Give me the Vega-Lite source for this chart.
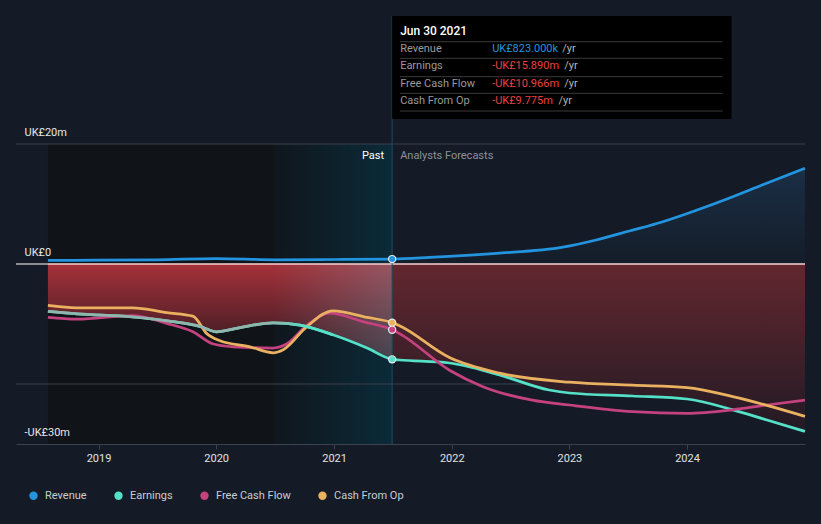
{
  "$schema": "https://vega.github.io/schema/vega-lite/v6.json",
  "width": 789,
  "height": 444,
  "autosize": {"type": "none"},
  "padding": {"left": 16, "top": 0, "right": 16, "bottom": 80},
  "background": "#151b26",
  "config": {
    "view": {"stroke": null},
    "font": "Roboto",
    "axisX": {"grid": false, "domainColor": "#3c4250", "tickColor": "#3c4250", "tickSize": 5, "labelColor": "#e2e2e2", "labelFontSize": 11, "labelPadding": 3, "title": null},
    "axisY": {"grid": false, "domain": false, "ticks": false, "tickSize": 0, "labelAlign": "left", "labelPadding": -8, "labelBaseline": "middle", "labelOffset": -12, "labelColor": "#e6e6e6", "labelFontSize": 11, "title": null},
    "legend": {"padding": 0}
  },
  "datasets": {
    "series": [
      {"date": "2018-07-28", "series": "Revenue", "value": 0.6},
      {"date": "2019-01-01", "series": "Revenue", "value": 0.65},
      {"date": "2019-07-01", "series": "Revenue", "value": 0.7},
      {"date": "2020-01-01", "series": "Revenue", "value": 0.9},
      {"date": "2020-07-01", "series": "Revenue", "value": 0.7},
      {"date": "2021-01-01", "series": "Revenue", "value": 0.75},
      {"date": "2021-06-30", "series": "Revenue", "value": 0.823},
      {"date": "2021-10-25", "series": "Revenue", "value": 1.1},
      {"date": "2022-05-20", "series": "Revenue", "value": 1.78},
      {"date": "2022-12-12", "series": "Revenue", "value": 2.8},
      {"date": "2023-03-25", "series": "Revenue", "value": 4.0},
      {"date": "2023-07-06", "series": "Revenue", "value": 5.5},
      {"date": "2023-10-18", "series": "Revenue", "value": 7.05},
      {"date": "2024-01-30", "series": "Revenue", "value": 8.95},
      {"date": "2024-05-12", "series": "Revenue", "value": 11.0},
      {"date": "2024-08-23", "series": "Revenue", "value": 13.2},
      {"date": "2025-01-01", "series": "Revenue", "value": 15.95},

      {"date": "2018-07-28", "series": "Earnings", "value": -7.9},
      {"date": "2018-10-26", "series": "Earnings", "value": -8.3},
      {"date": "2019-04-16", "series": "Earnings", "value": -8.8},
      {"date": "2019-08-19", "series": "Earnings", "value": -9.6},
      {"date": "2019-11-11", "series": "Earnings", "value": -10.4},
      {"date": "2020-01-02", "series": "Earnings", "value": -11.3},
      {"date": "2020-03-15", "series": "Earnings", "value": -10.6},
      {"date": "2020-06-26", "series": "Earnings", "value": -9.8},
      {"date": "2020-09-17", "series": "Earnings", "value": -10.2},
      {"date": "2020-12-28", "series": "Earnings", "value": -11.8},
      {"date": "2021-04-13", "series": "Earnings", "value": -14.0},
      {"date": "2021-06-30", "series": "Earnings", "value": -15.89},
      {"date": "2021-07-23", "series": "Earnings", "value": -16.0},
      {"date": "2021-12-25", "series": "Earnings", "value": -16.5},
      {"date": "2022-05-29", "series": "Earnings", "value": -18.5},
      {"date": "2022-10-30", "series": "Earnings", "value": -21.0},
      {"date": "2023-01-01", "series": "Earnings", "value": -21.5},
      {"date": "2023-07-16", "series": "Earnings", "value": -22.0},
      {"date": "2024-01-01", "series": "Earnings", "value": -22.5},
      {"date": "2024-05-22", "series": "Earnings", "value": -24.3},
      {"date": "2024-09-05", "series": "Earnings", "value": -26.0},
      {"date": "2025-01-01", "series": "Earnings", "value": -27.9},

      {"date": "2018-07-28", "series": "Free Cash Flow", "value": -8.9},
      {"date": "2018-10-26", "series": "Free Cash Flow", "value": -9.2},
      {"date": "2019-04-16", "series": "Free Cash Flow", "value": -8.6},
      {"date": "2019-08-01", "series": "Free Cash Flow", "value": -9.9},
      {"date": "2019-10-21", "series": "Free Cash Flow", "value": -11.3},
      {"date": "2019-12-21", "series": "Free Cash Flow", "value": -13.3},
      {"date": "2020-02-22", "series": "Free Cash Flow", "value": -13.8},
      {"date": "2020-06-26", "series": "Free Cash Flow", "value": -14.0},
      {"date": "2020-08-08", "series": "Free Cash Flow", "value": -13.3},
      {"date": "2020-10-09", "series": "Free Cash Flow", "value": -10.2},
      {"date": "2020-12-19", "series": "Free Cash Flow", "value": -8.2},
      {"date": "2021-03-31", "series": "Free Cash Flow", "value": -9.6},
      {"date": "2021-06-30", "series": "Free Cash Flow", "value": -10.966},
      {"date": "2021-07-23", "series": "Free Cash Flow", "value": -11.6},
      {"date": "2021-12-25", "series": "Free Cash Flow", "value": -17.7},
      {"date": "2022-04-06", "series": "Free Cash Flow", "value": -20.4},
      {"date": "2022-09-08", "series": "Free Cash Flow", "value": -22.7},
      {"date": "2023-01-01", "series": "Free Cash Flow", "value": -23.5},
      {"date": "2023-07-16", "series": "Free Cash Flow", "value": -24.6},
      {"date": "2024-01-01", "series": "Free Cash Flow", "value": -24.9},
      {"date": "2024-05-22", "series": "Free Cash Flow", "value": -24.3},
      {"date": "2024-09-05", "series": "Free Cash Flow", "value": -23.5},
      {"date": "2025-01-01", "series": "Free Cash Flow", "value": -22.7},

      {"date": "2018-07-28", "series": "Cash From Op", "value": -6.9},
      {"date": "2018-10-26", "series": "Cash From Op", "value": -7.3},
      {"date": "2019-04-16", "series": "Cash From Op", "value": -7.3},
      {"date": "2019-08-01", "series": "Cash From Op", "value": -8.1},
      {"date": "2019-10-21", "series": "Cash From Op", "value": -8.7},
      {"date": "2019-12-03", "series": "Cash From Op", "value": -11.6},
      {"date": "2020-01-13", "series": "Cash From Op", "value": -12.8},
      {"date": "2020-04-15", "series": "Cash From Op", "value": -13.8},
      {"date": "2020-06-26", "series": "Cash From Op", "value": -14.8},
      {"date": "2020-07-27", "series": "Cash From Op", "value": -14.3},
      {"date": "2020-10-09", "series": "Cash From Op", "value": -10.4},
      {"date": "2020-12-28", "series": "Cash From Op", "value": -7.8},
      {"date": "2021-04-13", "series": "Cash From Op", "value": -8.9},
      {"date": "2021-06-30", "series": "Cash From Op", "value": -9.775},
      {"date": "2021-07-23", "series": "Cash From Op", "value": -10.3},
      {"date": "2021-12-25", "series": "Cash From Op", "value": -15.6},
      {"date": "2022-05-29", "series": "Cash From Op", "value": -18.2},
      {"date": "2023-01-01", "series": "Cash From Op", "value": -19.7},
      {"date": "2023-07-16", "series": "Cash From Op", "value": -20.2},
      {"date": "2024-01-01", "series": "Cash From Op", "value": -20.6},
      {"date": "2024-05-22", "series": "Cash From Op", "value": -22.1},
      {"date": "2025-01-01", "series": "Cash From Op", "value": -25.4}
    ],
    "tip": [
      {"label": "Revenue", "amount": "UK£823.000k", "neg": false, "at": 35.78, "unit": "2022-12-10"},
      {"label": "Earnings", "amount": "-UK£15.890m", "neg": true, "at": 33.0, "unit": "2022-12-16"},
      {"label": "Free Cash Flow", "amount": "-UK£10.966m", "neg": true, "at": 30.0, "unit": "2022-12-16"},
      {"label": "Cash From Op", "amount": "-UK£9.775m", "neg": true, "at": 27.22, "unit": "2022-11-28"}
    ]
  },
  "layer": [
    {
      "data": {"values": [{}]},
      "mark": {"type": "rect", "color": "#101419"},
      "encoding": {
        "x": {"datum": {"year": 2018, "month": 7, "date": 28}, "type": "temporal", "title": null},
        "x2": {"datum": {"year": 2020, "month": 6, "date": 30}},
        "y": {"datum": 20, "type": "quantitative", "title": null},
        "y2": {"datum": -30}
      }
    },
    {
      "data": {"values": [{}]},
      "mark": {"type": "rect", "color": {"gradient": "linear", "x1": 0, "y1": 0, "x2": 1, "y2": 0, "stops": [{"offset": 0, "color": "#10161d"}, {"offset": 1, "color": "#0a2b38"}]}},
      "encoding": {
        "x": {"datum": {"year": 2020, "month": 6, "date": 30}, "type": "temporal", "title": null},
        "x2": {"datum": {"year": 2021, "month": 6, "date": 30}},
        "y": {"datum": 20, "type": "quantitative", "title": null},
        "y2": {"datum": -30}
      }
    },
    {
      "data": {"values": [{"g": 20}, {"g": -20}]},
      "mark": {"type": "rule", "color": "#3a404b", "strokeWidth": 1},
      "encoding": {"y": {"field": "g", "type": "quantitative", "title": null}}
    },
    {
      "data": {"name": "series"},
      "transform": [{"filter": "datum.series === 'Revenue' && toDate(datum.date) >= toDate('2021-06-30')"}],
      "mark": {"type": "area", "interpolate": "monotone", "color": {"gradient": "linear", "x1": 0, "y1": 0, "x2": 0, "y2": 1, "stops": [{"offset": 0, "color": "#1a2e45"}, {"offset": 1, "color": "#141d29"}]}},
      "encoding": {
        "x": {"field": "date", "type": "temporal", "title": null},
        "y": {"field": "value", "type": "quantitative", "title": null},
        "y2": {"datum": 0}
      }
    },
    {
      "data": {"name": "series"},
      "transform": [{"filter": "datum.series === 'Earnings' && toDate(datum.date) <= toDate('2021-06-30')"}],
      "mark": {"type": "area", "interpolate": "monotone", "color": {"gradient": "linear", "x1": 0, "y1": 0, "x2": 0, "y2": 1, "stops": [{"offset": 0, "color": "#a53139"}, {"offset": 1, "color": "#2d1820"}]}},
      "encoding": {
        "x": {"field": "date", "type": "temporal", "title": null},
        "y": {"field": "value", "type": "quantitative", "title": null},
        "y2": {"datum": 0}
      }
    },
    {
      "data": {"name": "series"},
      "transform": [{"filter": "datum.series === 'Earnings' && toDate(datum.date) >= toDate('2021-06-30')"}],
      "mark": {"type": "area", "interpolate": "monotone", "color": {"gradient": "linear", "x1": 0, "y1": 0, "x2": 0, "y2": 1, "stops": [{"offset": 0, "color": "#63272f"}, {"offset": 1, "color": "#221a24"}]}},
      "encoding": {
        "x": {"field": "date", "type": "temporal", "title": null},
        "y": {"field": "value", "type": "quantitative", "title": null},
        "y2": {"datum": 0}
      }
    },
    {
      "data": {"name": "series"},
      "transform": [{"filter": "datum.series === 'Earnings' && toDate(datum.date) >= toDate('2020-06-26') && toDate(datum.date) <= toDate('2021-06-30')"}],
      "mark": {"type": "area", "interpolate": "monotone", "color": {"gradient": "linear", "x1": 0, "y1": 0, "x2": 1, "y2": 0, "stops": [{"offset": 0, "color": "rgba(120,165,185,0.0)"}, {"offset": 1, "color": "rgba(120,165,185,0.32)"}]}},
      "encoding": {
        "x": {"field": "date", "type": "temporal", "title": null},
        "y": {"field": "value", "type": "quantitative", "title": null},
        "y2": {"datum": 0}
      }
    },
    {
      "data": {"values": [{}]},
      "mark": {"type": "rule", "color": "#ffffff", "strokeWidth": 1},
      "encoding": {"y": {"datum": 0, "type": "quantitative", "title": null}}
    },
    {
      "data": {"values": [{}]},
      "mark": {"type": "rule", "color": "#f3bcbc", "strokeWidth": 1},
      "encoding": {
        "x": {"datum": {"year": 2018, "month": 7, "date": 28}, "type": "temporal", "title": null},
        "x2": {"datum": {"year": 2025, "month": 1, "date": 1}},
        "y": {"datum": 0, "type": "quantitative", "title": null}
      }
    },
    {
      "data": {"values": [{}]},
      "mark": {"type": "rule", "color": "#1d4d5e", "strokeWidth": 1},
      "encoding": {
        "x": {"datum": {"year": 2021, "month": 6, "date": 30}, "type": "temporal", "title": null},
        "y": {"datum": -30, "type": "quantitative", "title": null},
        "y2": {"datum": 41.3}
      }
    },
    {
      "data": {"name": "series"},
      "mark": {"type": "line", "strokeWidth": 2.75, "interpolate": "monotone"},
      "encoding": {
        "x": {
          "field": "date", "type": "temporal", "title": null,
          "scale": {"domain": [{"year": 2018, "month": 4, "date": 20}, {"year": 2025, "month": 1, "date": 1}]},
          "axis": {"values": [{"year": 2019}, {"year": 2020}, {"year": 2021}, {"year": 2022}, {"year": 2023}, {"year": 2024}], "format": "%Y", "zindex": 2}
        },
        "y": {
          "field": "value", "type": "quantitative", "title": null,
          "scale": {"domain": [-30, 44], "nice": false, "zero": false},
          "axis": {"values": [20, 0, -30], "labelExpr": "datum.value == 20 ? 'UK£20m' : datum.value == 0 ? 'UK£0' : '-UK£30m'", "zindex": 2}
        },
        "color": {
          "field": "series", "type": "nominal",
          "scale": {"domain": ["Revenue", "Earnings", "Free Cash Flow", "Cash From Op"], "range": ["#2394df", "#55e0c8", "#c4427f", "#e9b160"]},
          "legend": {"orient": "none", "legendX": 12, "legendY": 490, "direction": "horizontal", "title": null, "symbolType": "circle", "symbolSize": 70, "symbolStrokeWidth": 0, "symbolFillColor": "#888888", "labelColor": "#c8cdd3", "labelFontSize": 11, "labelOffset": 6, "columnPadding": 26}
        }
      }
    },
    {
      "data": {"name": "series"},
      "transform": [{"filter": "datum.series === 'Earnings' && toDate(datum.date) <= toDate('2021-01-01')"}],
      "mark": {"type": "line", "strokeWidth": 2.75, "interpolate": "monotone", "stroke": {"gradient": "linear", "x1": 0, "y1": 0, "x2": 1, "y2": 0, "stops": [{"offset": 0, "color": "#8fb5ad"}, {"offset": 0.8, "color": "#8fb5ad"}, {"offset": 0.9, "color": "#55e0c8"}, {"offset": 1, "color": "#55e0c8"}]}},
      "encoding": {
        "x": {"field": "date", "type": "temporal", "title": null},
        "y": {"field": "value", "type": "quantitative", "title": null}
      }
    },
    {
      "data": {"name": "series"},
      "transform": [{"filter": "toDate(datum.date) - toDate('2021-06-30') == 0"}],
      "mark": {"type": "point", "filled": true, "color": "#e4ecf0", "opacity": 1, "size": 70},
      "encoding": {
        "x": {"field": "date", "type": "temporal", "title": null},
        "y": {"field": "value", "type": "quantitative", "title": null}
      }
    },
    {
      "data": {"name": "series"},
      "transform": [{"filter": "toDate(datum.date) - toDate('2021-06-30') == 0"}],
      "mark": {"type": "point", "filled": true, "opacity": 1, "size": 36},
      "encoding": {
        "x": {"field": "date", "type": "temporal", "title": null},
        "y": {"field": "value", "type": "quantitative", "title": null},
        "color": {"field": "series", "type": "nominal"}
      }
    },
    {
      "data": {"values": [{}]},
      "mark": {"type": "text", "text": "Past", "align": "right", "baseline": "middle", "dx": -8, "color": "#ffffff", "fontSize": 11},
      "encoding": {
        "x": {"datum": {"year": 2021, "month": 6, "date": 30}, "type": "temporal", "title": null},
        "y": {"datum": 18, "type": "quantitative", "title": null}
      }
    },
    {
      "data": {"values": [{}]},
      "mark": {"type": "text", "text": "Analysts Forecasts", "align": "left", "baseline": "middle", "dx": 8, "color": "#8c9099", "fontSize": 11},
      "encoding": {
        "x": {"datum": {"year": 2021, "month": 6, "date": 30}, "type": "temporal", "title": null},
        "y": {"datum": 18, "type": "quantitative", "title": null}
      }
    },
    {
      "data": {"values": [{}]},
      "mark": {"type": "rect", "color": "#000000"},
      "encoding": {
        "x": {"datum": {"year": 2021, "month": 6, "date": 30}, "type": "temporal", "title": null},
        "x2": {"datum": {"year": 2024, "month": 5, "date": 18}},
        "y": {"datum": 41.33, "type": "quantitative", "title": null},
        "y2": {"datum": 24.17}
      }
    },
    {
      "data": {"values": [{"s": 37.05}, {"s": 34.28}, {"s": 31.22}, {"s": 28.45}, {"s": 25.5}]},
      "mark": {"type": "rule", "color": "#3a3a3a", "strokeWidth": 1},
      "encoding": {
        "x": {"datum": {"year": 2021, "month": 7, "date": 24}, "type": "temporal", "title": null},
        "x2": {"datum": {"year": 2024, "month": 4, "date": 20}},
        "y": {"field": "s", "type": "quantitative", "title": null}
      }
    },
    {
      "data": {"values": [{}]},
      "mark": {"type": "text", "text": "Jun 30 2021", "align": "left", "baseline": "middle", "dx": 8, "color": "#ffffff", "fontSize": 12, "fontWeight": 500},
      "encoding": {
        "x": {"datum": {"year": 2021, "month": 6, "date": 30}, "type": "temporal", "title": null},
        "y": {"datum": 38.83, "type": "quantitative", "title": null}
      }
    },
    {
      "data": {"name": "tip"},
      "mark": {"type": "text", "align": "left", "baseline": "middle", "dx": 8, "color": "#9a9a9a", "fontSize": 11},
      "encoding": {
        "x": {"datum": {"year": 2021, "month": 6, "date": 30}, "type": "temporal", "title": null},
        "y": {"field": "at", "type": "quantitative", "title": null},
        "text": {"field": "label"}
      }
    },
    {
      "data": {"name": "tip"},
      "mark": {"type": "text", "align": "left", "baseline": "middle", "dx": 100, "fontSize": 11},
      "encoding": {
        "x": {"datum": {"year": 2021, "month": 6, "date": 30}, "type": "temporal", "title": null},
        "y": {"field": "at", "type": "quantitative", "title": null},
        "text": {"field": "amount"},
        "color": {"condition": {"test": "datum.neg", "value": "#e8403f"}, "value": "#2394df"}
      }
    },
    {
      "data": {"name": "tip"},
      "mark": {"type": "text", "align": "left", "baseline": "middle", "color": "#b4b4b4", "fontSize": 11, "text": "/yr"},
      "encoding": {
        "x": {"field": "unit", "type": "temporal", "title": null},
        "y": {"field": "at", "type": "quantitative", "title": null}
      }
    }
  ]
}
